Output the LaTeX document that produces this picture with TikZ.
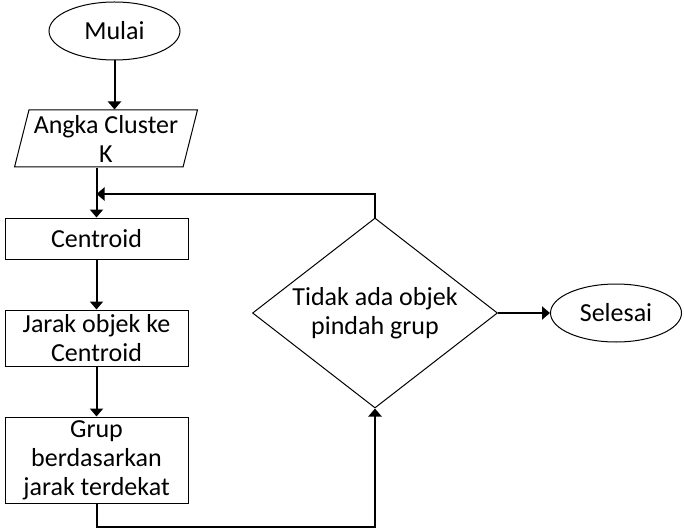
\documentclass[tikz,border=0pt]{standalone}
\usepackage{fontspec}
\setmainfont{Carlito}
\usetikzlibrary{shapes.geometric,arrows.meta,positioning,calc}
\tikzset{
  terminal/.style={
    shape = ellipse,
    draw,
    line width = 0.5pt,
    minimum width = 65.5pt,
    minimum height = 29pt,
    inner sep = 0pt
  },
  masukan/.style={
    shape = trapezium,
    trapezium left angle = 74,
    trapezium right angle = 106,
    trapezium stretches = true,
    draw,
    line width = 0.5pt,
    minimum width = 92pt,
    minimum height = 28.5pt,
    inner sep = 0pt,
    align = center
  },
  proses/.style={
    shape = rectangle,
    draw,
    line width = 0.5pt,
    minimum width = 91.5pt,
    inner sep = 0pt,
    align = center
  },
  keputusan/.style={
    shape = diamond,
    draw,
    line width = 0.5pt,
    minimum width = 122.5pt,
    minimum height = 95pt,
    shape aspect = 1.3,
    inner sep = 0pt,
    align = center
  },
  alur/.style={
    -{Triangle[length=4pt,width=6.5pt]},
    line width = 1pt
  },
  every node/.style = {
    font = \fontsize{13}{14.5}\selectfont
  }
}
\begin{document}
\begin{tikzpicture}[x=0.5pt,y=-0.5pt]
  \useasboundingbox (0,0) rectangle (684,529);
  \node[terminal] (mulai) at (114.5,31) {Mulai};
  \node[masukan] (angka) at (106,138.5) {Angka Cluster\\K};
  \node[proses, minimum height=20.5pt] (centroid) at (96.5,238.5) {Centroid};
  \node[proses, minimum height=28pt] (jarak) at (96.5,338) {Jarak objek ke\\Centroid};
  \node[proses, minimum height=43pt] (grup) at (96.5,460) {Grup\\berdasarkan\\jarak terdekat};
  \node[keputusan] (cek) at (375,313) {Tidak ada objek\\pindah grup};
  \node[terminal] (selesai) at (616,313) {Selesai};
  \coordinate (balik) at (centroid.north |- 0,194);
  \coordinate (bawah) at (grup.south |- 0,527);
  % alur utama
  \draw[alur] (mulai.south) -- (mulai.south |- angka.north);
  \draw[alur] (centroid.north |- angka.south) -- (centroid.north);
  \draw[alur] (centroid) -- (jarak);
  \draw[alur] (jarak) -- (grup);
  \draw[alur] (grup.south) -- (bawah) -| (cek.south);
  % kembali ke centroid
  \draw[alur] (cek.north) |- (balik);
  \draw[alur] (cek) -- (selesai);
\end{tikzpicture}
\end{document}
